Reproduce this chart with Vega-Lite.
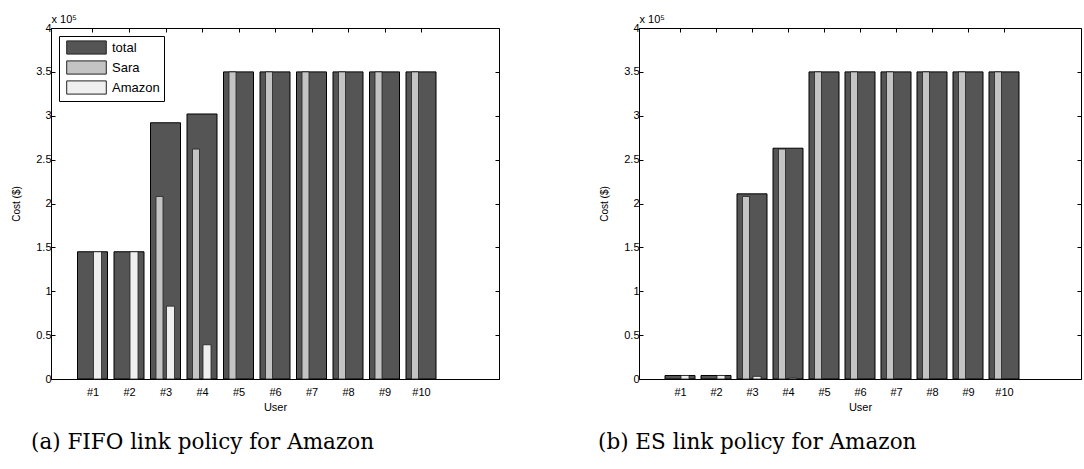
{
  "$schema": "https://vega.github.io/schema/vega-lite/v6.json",
  "background": "white",
  "padding": {"left": 11, "top": 12, "right": 0, "bottom": 0},
  "spacing": 97,
  "config": {
    "font": "Liberation Sans",
    "view": {"stroke": "black", "strokeWidth": 1},
    "axis": {
      "grid": false,
      "domainColor": "black",
      "tickColor": "black",
      "labelColor": "black",
      "titleColor": "black",
      "labelFont": "Liberation Sans",
      "titleFont": "Liberation Sans",
      "labelFontSize": 11,
      "titleFontSize": 11,
      "titleFontWeight": "normal",
      "tickSize": -4
    },
    "title": {
      "font": "DejaVu Serif",
      "fontSize": 21.5,
      "fontWeight": "normal",
      "color": "black",
      "orient": "bottom",
      "anchor": "start",
      "frame": "group",
      "offset": 20
    }
  },
  "data": {
    "values": [
      {"panel": "a", "user": 1, "series": "total", "cost": 145000},
      {"panel": "a", "user": 1, "series": "Sara", "cost": 0},
      {"panel": "a", "user": 1, "series": "Amazon", "cost": 145000},
      {"panel": "a", "user": 2, "series": "total", "cost": 145000},
      {"panel": "a", "user": 2, "series": "Sara", "cost": 0},
      {"panel": "a", "user": 2, "series": "Amazon", "cost": 145000},
      {"panel": "a", "user": 3, "series": "total", "cost": 292000},
      {"panel": "a", "user": 3, "series": "Sara", "cost": 208000},
      {"panel": "a", "user": 3, "series": "Amazon", "cost": 83000},
      {"panel": "a", "user": 4, "series": "total", "cost": 302000},
      {"panel": "a", "user": 4, "series": "Sara", "cost": 262000},
      {"panel": "a", "user": 4, "series": "Amazon", "cost": 39000},
      {"panel": "a", "user": 5, "series": "total", "cost": 350000},
      {"panel": "a", "user": 5, "series": "Sara", "cost": 350000},
      {"panel": "a", "user": 5, "series": "Amazon", "cost": 0},
      {"panel": "a", "user": 6, "series": "total", "cost": 350000},
      {"panel": "a", "user": 6, "series": "Sara", "cost": 350000},
      {"panel": "a", "user": 6, "series": "Amazon", "cost": 0},
      {"panel": "a", "user": 7, "series": "total", "cost": 350000},
      {"panel": "a", "user": 7, "series": "Sara", "cost": 350000},
      {"panel": "a", "user": 7, "series": "Amazon", "cost": 0},
      {"panel": "a", "user": 8, "series": "total", "cost": 350000},
      {"panel": "a", "user": 8, "series": "Sara", "cost": 350000},
      {"panel": "a", "user": 8, "series": "Amazon", "cost": 0},
      {"panel": "a", "user": 9, "series": "total", "cost": 350000},
      {"panel": "a", "user": 9, "series": "Sara", "cost": 350000},
      {"panel": "a", "user": 9, "series": "Amazon", "cost": 0},
      {"panel": "a", "user": 10, "series": "total", "cost": 350000},
      {"panel": "a", "user": 10, "series": "Sara", "cost": 350000},
      {"panel": "a", "user": 10, "series": "Amazon", "cost": 0},
      {"panel": "b", "user": 1, "series": "total", "cost": 4000},
      {"panel": "b", "user": 1, "series": "Sara", "cost": 0},
      {"panel": "b", "user": 1, "series": "Amazon", "cost": 4000},
      {"panel": "b", "user": 2, "series": "total", "cost": 4000},
      {"panel": "b", "user": 2, "series": "Sara", "cost": 0},
      {"panel": "b", "user": 2, "series": "Amazon", "cost": 4000},
      {"panel": "b", "user": 3, "series": "total", "cost": 211000},
      {"panel": "b", "user": 3, "series": "Sara", "cost": 208000},
      {"panel": "b", "user": 3, "series": "Amazon", "cost": 3000},
      {"panel": "b", "user": 4, "series": "total", "cost": 263000},
      {"panel": "b", "user": 4, "series": "Sara", "cost": 262000},
      {"panel": "b", "user": 4, "series": "Amazon", "cost": 1000},
      {"panel": "b", "user": 5, "series": "total", "cost": 350000},
      {"panel": "b", "user": 5, "series": "Sara", "cost": 350000},
      {"panel": "b", "user": 5, "series": "Amazon", "cost": 0},
      {"panel": "b", "user": 6, "series": "total", "cost": 350000},
      {"panel": "b", "user": 6, "series": "Sara", "cost": 350000},
      {"panel": "b", "user": 6, "series": "Amazon", "cost": 0},
      {"panel": "b", "user": 7, "series": "total", "cost": 350000},
      {"panel": "b", "user": 7, "series": "Sara", "cost": 350000},
      {"panel": "b", "user": 7, "series": "Amazon", "cost": 0},
      {"panel": "b", "user": 8, "series": "total", "cost": 350000},
      {"panel": "b", "user": 8, "series": "Sara", "cost": 350000},
      {"panel": "b", "user": 8, "series": "Amazon", "cost": 0},
      {"panel": "b", "user": 9, "series": "total", "cost": 350000},
      {"panel": "b", "user": 9, "series": "Sara", "cost": 350000},
      {"panel": "b", "user": 9, "series": "Amazon", "cost": 0},
      {"panel": "b", "user": 10, "series": "total", "cost": 350000},
      {"panel": "b", "user": 10, "series": "Sara", "cost": 350000},
      {"panel": "b", "user": 10, "series": "Amazon", "cost": 0}
    ]
  },
  "hconcat": [
    {
      "width": 448,
      "height": 351,
      "title": {"text": "(a) FIFO link policy for Amazon", "dx": -20},
      "transform": [{"filter": "datum.panel == 'a'"}],
      "resolve": {"axis": {"x": "independent", "y": "independent"}},
      "layer": [
        {
          "transform": [{"filter": "datum.series == 'total' && datum.cost > 0"}],
          "mark": {"type": "bar", "width": 30, "stroke": "black", "strokeWidth": 1},
          "encoding": {
            "x": {"field": "user", "type": "quantitative", "scale": {"domain": [0, 12], "nice": false, "zero": false},
              "axis": {"values": [1, 2, 3, 4, 5, 6, 7, 8, 9, 10], "labelExpr": "'#' + datum.value", "title": "User", "labelPadding": 11, "titlePadding": 4, "labelFlush": false}},
            "y": {"field": "cost", "type": "quantitative", "stack": null, "scale": {"domain": [0, 400000], "nice": false},
              "axis": {"values": [0, 50000, 100000, 150000, 200000, 250000, 300000, 350000, 400000], "labelExpr": "datum.value / 100000", "title": "Cost ($)", "titleFontSize": 10, "labelPadding": 4, "titlePadding": 14}},
            "color": {"field": "series", "type": "nominal",
              "scale": {"domain": ["total", "Sara", "Amazon"], "range": ["#555555", "#c4c4c4", "#efefef"]},
              "legend": {"orient": "top-left", "offset": 8, "title": null, "padding": 4, "strokeColor": "black", "fillColor": "white",
                "symbolType": "M-3,-1H3V1H-3Z", "symbolSize": 174, "symbolStrokeColor": "black", "symbolStrokeWidth": 1,
                "symbolOffset": 16, "labelOffset": 18, "labelFontSize": 13, "labelColor": "black", "labelFont": "Liberation Sans", "rowPadding": 1, "cornerRadius": 0, "symbolOpacity": 1}}
          }
        },
        {
          "transform": [{"filter": "datum.series == 'Sara' && datum.cost > 0"}],
          "mark": {"type": "bar", "width": 7, "xOffset": -6, "stroke": "#222222", "strokeWidth": 0.8},
          "encoding": {
            "x": {"field": "user", "type": "quantitative",
              "axis": {"orient": "top", "values": [1, 2, 3, 4, 5, 6, 7, 8, 9, 10], "labels": false, "domain": false, "title": "x 10⁵", "titleFontSize": 11, "titleAnchor": "start", "titleAlign": "left", "titleBaseline": "alphabetic", "titleX": 0, "titleY": -6}},
            "y": {"field": "cost", "type": "quantitative", "stack": null, "axis": null},
            "color": {"field": "series", "type": "nominal"}
          }
        },
        {
          "transform": [{"filter": "datum.series == 'Amazon' && datum.cost > 0"}],
          "mark": {"type": "bar", "width": 8, "xOffset": 5, "stroke": "#222222", "strokeWidth": 0.8},
          "encoding": {
            "x": {"field": "user", "type": "quantitative", "axis": null},
            "y": {"field": "cost", "type": "quantitative", "stack": null,
              "axis": {"orient": "right", "values": [0, 50000, 100000, 150000, 200000, 250000, 300000, 350000, 400000], "labels": false, "domain": false, "title": null}},
            "color": {"field": "series", "type": "nominal"}
          }
        }
      ]
    },
    {
      "width": 442,
      "height": 351,
      "title": {"text": "(b) ES link policy for Amazon", "dx": -41},
      "transform": [{"filter": "datum.panel == 'b'"}],
      "resolve": {"axis": {"x": "independent", "y": "independent"}},
      "layer": [
        {
          "transform": [{"filter": "datum.series == 'total' && datum.cost > 0"}],
          "mark": {"type": "bar", "width": 30, "stroke": "black", "strokeWidth": 1},
          "encoding": {
            "x": {"field": "user", "type": "quantitative", "scale": {"domain": [0, 12], "nice": false, "zero": false},
              "axis": {"values": [1, 2, 3, 4, 5, 6, 7, 8, 9, 10], "labelExpr": "'#' + datum.value", "title": "User", "labelPadding": 11, "titlePadding": 4, "labelFlush": false}},
            "y": {"field": "cost", "type": "quantitative", "stack": null, "scale": {"domain": [0, 400000], "nice": false},
              "axis": {"values": [0, 50000, 100000, 150000, 200000, 250000, 300000, 350000, 400000], "labelExpr": "datum.value / 100000", "title": "Cost ($)", "titleFontSize": 10, "labelPadding": 4, "titlePadding": 14}},
            "color": {"field": "series", "type": "nominal",
              "scale": {"domain": ["total", "Sara", "Amazon"], "range": ["#555555", "#c4c4c4", "#efefef"]},
              "legend": {"orient": "top-left", "offset": 8, "title": null, "padding": 4, "strokeColor": "black", "fillColor": "white",
                "symbolType": "M-3,-1H3V1H-3Z", "symbolSize": 174, "symbolStrokeColor": "black", "symbolStrokeWidth": 1,
                "symbolOffset": 16, "labelOffset": 18, "labelFontSize": 13, "labelColor": "black", "labelFont": "Liberation Sans", "rowPadding": 1, "cornerRadius": 0, "symbolOpacity": 1}}
          }
        },
        {
          "transform": [{"filter": "datum.series == 'Sara' && datum.cost > 0"}],
          "mark": {"type": "bar", "width": 7, "xOffset": -6, "stroke": "#222222", "strokeWidth": 0.8},
          "encoding": {
            "x": {"field": "user", "type": "quantitative",
              "axis": {"orient": "top", "values": [1, 2, 3, 4, 5, 6, 7, 8, 9, 10], "labels": false, "domain": false, "title": "x 10⁵", "titleFontSize": 11, "titleAnchor": "start", "titleAlign": "left", "titleBaseline": "alphabetic", "titleX": 0, "titleY": -6}},
            "y": {"field": "cost", "type": "quantitative", "stack": null, "axis": null},
            "color": {"field": "series", "type": "nominal"}
          }
        },
        {
          "transform": [{"filter": "datum.series == 'Amazon' && datum.cost > 0"}],
          "mark": {"type": "bar", "width": 8, "xOffset": 5, "stroke": "#222222", "strokeWidth": 0.8},
          "encoding": {
            "x": {"field": "user", "type": "quantitative", "axis": null},
            "y": {"field": "cost", "type": "quantitative", "stack": null,
              "axis": {"orient": "right", "values": [0, 50000, 100000, 150000, 200000, 250000, 300000, 350000, 400000], "labels": false, "domain": false, "title": null}},
            "color": {"field": "series", "type": "nominal"}
          }
        }
      ]
    }
  ]
}
